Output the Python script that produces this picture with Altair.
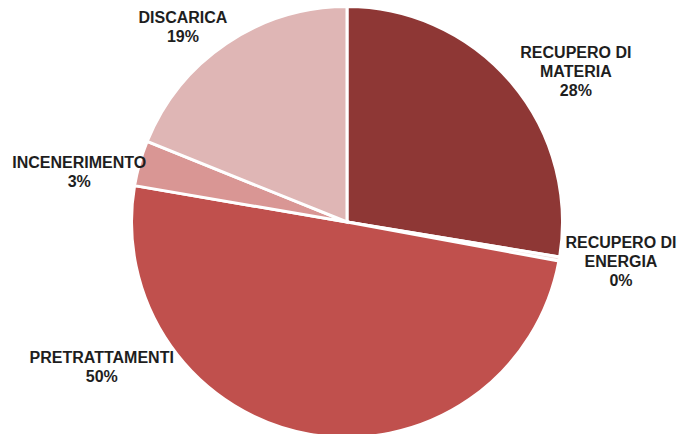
import altair as alt
import pandas as pd

# Data
categories = ["RECUPERO DI MATERIA", "RECUPERO DI ENERGIA", "PRETRATTAMENTI", "INCENERIMENTO", "DISCARICA"]
label_lines = ["RECUPERO DI\nMATERIA", "RECUPERO DI\nENERGIA", "PRETRATTAMENTI", "INCENERIMENTO", "DISCARICA"]
values = [27.6, 0.3, 49.8, 3.4, 18.9]
colors = ["#8E3735", "#F2DCDB", "#C0504D", "#D99694", "#DFB6B5"]

# label offsets (style)
label_dx = [23, 8, -198, -8, -13]
label_dy = [6, -25, -130, 15, 20]

df = pd.DataFrame({
    "cat": categories,
    "value": values,
    "idx": list(range(len(categories))),
    "label": [f"{l}\n{v:.0f}%" for l, v in zip(label_lines, values)],
})

base = alt.Chart(df)

arcs = base.mark_arc(outerRadius=215.5, stroke="white", strokeWidth=3).encode(
    theta=alt.Theta("value:Q", stack=True),
    color=alt.Color("cat:N", scale=alt.Scale(domain=categories, range=colors), legend=None),
    order=alt.Order("idx:Q"),
)

layers = [arcs]
for i, cat in enumerate(categories):
    t = base.transform_window(
        cum="sum(value)", sort=[{"field": "idx"}]
    ).transform_calculate(
        mid="datum.cum - datum.value / 2"
    ).transform_filter(
        alt.datum.idx == i
    ).mark_text(
        radius=270, dx=label_dx[i], dy=label_dy[i], lineBreak="\n",
        font="Liberation Sans", fontSize=16, fontWeight="bold",
        color="#1E1E1E", align="center", baseline="middle", lineHeight=19,
    ).encode(
        theta=alt.Theta("mid:Q", stack=None),
        text="label:N",
    )
    layers.append(t)

chart = alt.layer(*layers).properties(
    width=662, height=424,
    padding={"left": 8, "top": 2, "right": 0, "bottom": 0},
    autosize=alt.AutoSizeParams(type="none"),
    background="white",
).configure_view(stroke=None)

chart.save("out.html", embed_options={"renderer": "svg", "actions": False})
